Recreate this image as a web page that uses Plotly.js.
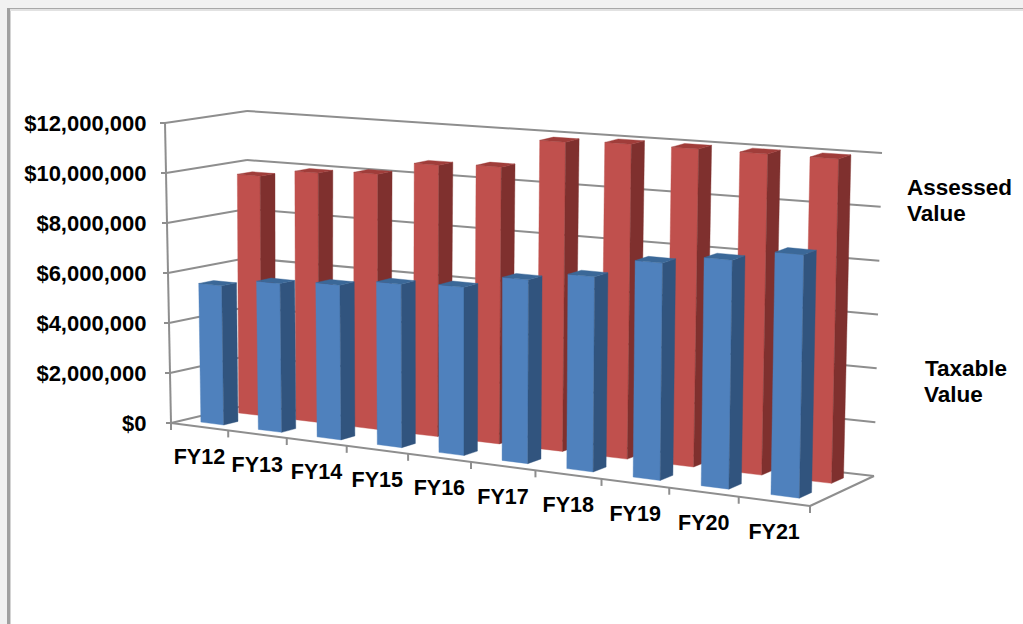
<!DOCTYPE html>
<html>
<head>
<meta charset="utf-8">
<script src="https://cdn.plot.ly/plotly-3.0.1.min.js"></script>
<style>html,body{margin:0;padding:0;background:#fff;overflow:hidden}#chart{width:1023px;height:624px}</style>
</head>
<body>
<div id="chart"></div>
<script>
// Taxable and assessed value by fiscal year
const categories = ['FY12','FY13','FY14','FY15','FY16','FY17','FY18','FY19','FY20','FY21'];
const taxableValue = [5550000,5880000,6060000,6340000,6470000,7000000,7360000,8120000,8470000,8910000];
const assessedValue = [9650000,9960000,10100000,10640000,10750000,11900000,12000000,12000000,12000000,12000000];
const valueTicks = [0,2000000,4000000,6000000,8000000,10000000,12000000];
const valueTickLabels = ['$0','$2,000,000','$4,000,000','$6,000,000','$8,000,000','$10,000,000','$12,000,000'];
const seriesLabelLines = ['Assessed','Value','Taxable','Value'];
const axisMax = 12000000;

const W = 1023, H = 624;
const GRID = '#8e8e8e';

// Screen corners of the 3-D plot box: floor and ceiling, front and back
const box = {
  floorFrontLeft:[171,423], floorFrontRight:[810,506], floorBackLeft:[247,405], floorBackRight:[874,476],
  topFrontLeft:[165,123], topFrontRight:[816,176], topBackLeft:[247,111], topBackRight:[882,153]
};
const lerp = (a,b,t) => [a[0]+(b[0]-a[0])*t, a[1]+(b[1]-a[1])*t];

// Foreshortening along the category direction
const warp = u => { const r = 1.13, n = categories.length; return u/(u + r*(n-u)); };

// (category position, depth 0-1, value) to screen pixels
function project(u,d,v){
  const t = warp(u), h = v/axisMax;
  const floor = lerp(lerp(box.floorFrontLeft,box.floorFrontRight,t), lerp(box.floorBackLeft,box.floorBackRight,t), d);
  const top = lerp(lerp(box.topFrontLeft,box.topFrontRight,t), lerp(box.topBackLeft,box.topBackRight,t), d);
  return lerp(floor,top,h);
}

// The value axis spans the page height, so a screen row converts to axis units
const PX_PER_VALUE = 25/1000000, ZERO_ROW = 423;
const rowToValue = py => (ZERO_ROW-py)/PX_PER_VALUE;

const traces = [];
function poly(points,color){
  const closed = points.concat([points[0]]);
  traces.push({x:closed.map(p=>p[0]), y:closed.map(p=>rowToValue(p[1])), mode:'lines', fill:'toself',
    fillcolor:color, line:{color:color,width:0.4}, hoverinfo:'skip', showlegend:false});
}
function line(a,b){
  traces.push({x:[a[0],b[0]], y:[rowToValue(a[1]),rowToValue(b[1])], mode:'lines',
    line:{color:GRID,width:2}, hoverinfo:'skip', showlegend:false});
}

const n = categories.length;
// Back wall and side wall gridlines, with a short tick at the front of each
valueTicks.forEach(v=>{
  const front = project(0,0,v), back = project(0,1,v), right = project(n,1,v);
  line([front[0]-5,front[1]],front);
  line(front,back);
  line(back,right);
});
// Floor outline, the vertical axis and category ticks
line(project(0,0,0),project(0,0,axisMax));
line(project(0,0,0),project(n,0,0));
line(project(n,0,0),project(n,1,0));
for(let i=0;i<=n;i++){
  const p = project(i,0,0);
  line(p,[p[0],p[1]+7]);
}

// One 3-D bar: front, side and top faces
function bar(i,value,d0,d1,colors){
  const u0=i+0.3,u1=i+0.7;
  const a=project(u0,d0,0),b=project(u1,d0,0),c=project(u1,d1,0);
  const e=project(u0,d0,value),f=project(u1,d0,value),g=project(u1,d1,value),h=project(u0,d1,value);
  poly([a,b,f,e],colors[0]);
  poly([b,c,g,f],colors[1]);
  poly([e,f,g,h],colors[2]);
}
const red=['#c0504d','#7f302e','#a03d3a'], blue=['#4f81bd','#31547e','#3b6898'];
assessedValue.forEach((v,i)=>bar(i,v,0.67,0.855,red));
taxableValue.forEach((v,i)=>bar(i,v,0.17,0.36,blue));

const FONT = {family:'"Liberation Sans",Arial,sans-serif',size:22,color:'#000'};
const CATEGORY_FONT = {family:FONT.family,size:21.5,color:'#000'};
const SERIES_FONT = {family:FONT.family,size:22.5,color:'#000'};
// Category labels sit a fixed distance below the front floor edge
const labelPos = categories.map((c,i)=>project(i+0.5,0,0));
traces.push({x:labelPos.map(p=>p[0]), y:labelPos.map(p=>rowToValue(p[1]+32)), text:categories.map(c=>'<b>'+c+'</b>'),
  mode:'text', textposition:'middle center', textfont:CATEGORY_FONT, hoverinfo:'skip', showlegend:false, cliponaxis:false});

// Thin page frame on the left and top
const pxRect = (x0,y0,x1,y1,color) => ({type:'rect',xref:'x',yref:'paper',x0:x0,x1:x1,y0:1-y0/H,y1:1-y1/H,fillcolor:color,line:{width:0},layer:'below'});

// Series names placed beside the right-hand wall
const seriesLabelX = [905,905,923,922], seriesLabelRow = [187,213,368,394];

const layout = {
  width:W,height:H,margin:{l:0,r:0,t:0,b:0},paper_bgcolor:'#fff',plot_bgcolor:'#fff',showlegend:false,
  xaxis:{visible:false,range:[0,W],fixedrange:true,domain:[0,1]},
  yaxis:{range:[rowToValue(H),rowToValue(0)],anchor:'free',position:146.5/W,showgrid:false,zeroline:false,showline:false,
    tickmode:'array',tickvals:valueTicks,ticktext:valueTickLabels.map(s=>'<b>'+s+'</b>'),tickfont:FONT,ticks:'',
    ticklabelshift:1.5,fixedrange:true},
  shapes:[
    pxRect(0,0,W,8,'#f1f1f1'),pxRect(0,0,7,H,'#f1f1f1'),
    pxRect(9,9,11,H,'#d4d4d4'),pxRect(9,9,W,11,'#e2e2e2'),
    pxRect(7,8,W,9,'#a8a8a8'),pxRect(7,8,10,H,'#a0a0a0')
  ],
  annotations:seriesLabelLines.map((s,i)=>({xref:'x',yref:'paper',x:seriesLabelX[i],y:1-seriesLabelRow[i]/H,
    xanchor:'left',yanchor:'middle',showarrow:false,text:'<b>'+s+'</b>',font:SERIES_FONT}))
};
Plotly.newPlot('chart',traces,layout,{displayModeBar:false,staticPlot:true});
</script>
</body>
</html>
